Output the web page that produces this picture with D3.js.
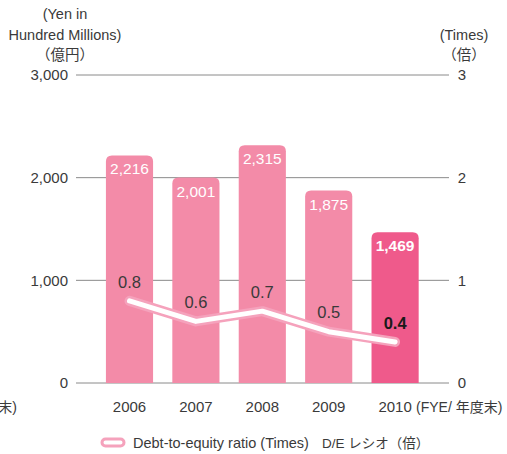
<!DOCTYPE html>
<html><head><meta charset="utf-8">
<script src="https://cdn.jsdelivr.net/npm/d3@7"></script>
<style>
body{margin:0;background:#fff;}
svg{display:block;font-family:"Liberation Sans","Helvetica Neue",Arial,"Noto Sans CJK JP",sans-serif;}
</style></head>
<body><svg id="c" width="507" height="454"></svg>
<script>
const years = ["2006","2007","2008","2009","2010"];
const debt = [2216, 2001, 2315, 1875, 1469];
const ratio = [0.8, 0.6, 0.7, 0.5, 0.4];
const leftTicks = [0, 1000, 2000, 3000];
const rightTicks = [0, 1, 2, 3];

const svg = d3.select("#c");
const x = d3.scaleBand().domain(years).range([96.3, 428.3]).paddingInner(0.29).paddingOuter(0.145);
const yL = d3.scaleLinear().domain([0, 3000]).range([383, 75]);
const yR = d3.scaleLinear().domain([0, 3]).range([383, 75]);
const textCol = "#3a3a3a";
const fs = 14.5;

// gridlines
svg.append("g").selectAll("line").data(leftTicks).join("line")
  .attr("x1", 76).attr("x2", 449)
  .attr("y1", d => yL(d)).attr("y2", d => yL(d))
  .attr("stroke", "#8a8a8a").attr("stroke-width", 1);

// left axis labels
svg.append("g").selectAll("text").data(leftTicks).join("text")
  .attr("x", 68).attr("y", d => yL(d)).attr("dy", "0.35em")
  .attr("text-anchor", "end").attr("font-size", 15).attr("fill", textCol)
  .text(d => d3.format(",")(d));
// right axis labels
svg.append("g").selectAll("text").data(rightTicks).join("text")
  .attr("x", 462).attr("y", d => yR(d)).attr("dy", "0.35em")
  .attr("text-anchor", "middle").attr("font-size", 15).attr("fill", textCol)
  .text(d => d);

// axis titles
const lt = [["(Yen in", 14], ["Hundred Millions)", 35], ["（億円）", 55]];
svg.append("g").selectAll("text").data(lt).join("text")
  .attr("x", 65).attr("y", d => d[1]).attr("dy", "0.35em")
  .attr("text-anchor", "middle").attr("font-size", fs).attr("fill", textCol)
  .text(d => d[0]);
const rt = [["(Times)", 35], ["（倍）", 55]];
svg.append("g").selectAll("text").data(rt).join("text")
  .attr("x", 464).attr("y", d => d[1]).attr("dy", "0.35em")
  .attr("text-anchor", "middle").attr("font-size", fs).attr("fill", textCol)
  .text(d => d[0]);

// bars with rounded top corners
const r = 6;
function barPath(d, i) {
  const x0 = x(years[i]), w = x.bandwidth(), y0 = yL(d), yb = yL(0);
  return `M${x0},${yb}V${y0 + r}Q${x0},${y0} ${x0 + r},${y0}H${x0 + w - r}Q${x0 + w},${y0} ${x0 + w},${y0 + r}V${yb}Z`;
}
svg.append("g").selectAll("path").data(debt).join("path")
  .attr("d", barPath)
  .attr("fill", (d, i) => i === years.length - 1 ? "#ef5a8b" : "#f38ba8");

// bar labels
svg.append("g").selectAll("text").data(debt).join("text")
  .attr("x", (d, i) => x(years[i]) + x.bandwidth() / 2)
  .attr("y", d => yL(d) + 19)
  .attr("text-anchor", "middle").attr("font-size", 15.5).attr("fill", "#fff")
  .attr("font-weight", (d, i) => i === years.length - 1 ? "bold" : "normal")
  .text(d => d3.format(",")(d));

// ratio line
const line = d3.line().x((d, i) => x(years[i]) + x.bandwidth() / 2).y(d => yR(d));
svg.append("path").datum(ratio).attr("d", line)
  .attr("fill", "none").attr("stroke", "#f5a2bc").attr("stroke-width", 10)
  .attr("stroke-linecap", "round").attr("stroke-linejoin", "round");
svg.append("path").datum(ratio).attr("d", line)
  .attr("fill", "none").attr("stroke", "#fff").attr("stroke-width", 5)
  .attr("stroke-linecap", "round").attr("stroke-linejoin", "round");

// ratio labels
svg.append("g").selectAll("text").data(ratio).join("text")
  .attr("x", (d, i) => x(years[i]) + x.bandwidth() / 2)
  .attr("y", d => yR(d) - 19).attr("dy", "0.35em")
  .attr("text-anchor", "middle").attr("font-size", 16.5)
  .attr("fill", (d, i) => i === years.length - 1 ? "#1a1a1a" : textCol)
  .attr("font-weight", (d, i) => i === years.length - 1 ? "bold" : "normal")
  .text(d => d3.format(".1f")(d));

// x labels
svg.append("g").selectAll("text").data(years).join("text")
  .attr("x", d => x(d) + x.bandwidth() / 2).attr("y", 407).attr("dy", "0.35em")
  .attr("text-anchor", "middle").attr("font-size", 15).attr("fill", textCol)
  .text(d => d);
svg.append("text").attr("x", 416).attr("y", 407).attr("dy", "0.35em")
  .attr("font-size", 14).attr("fill", textCol)
  .text("(FYE/ 年度末)");
svg.append("text").attr("x", 17).attr("y", 407).attr("dy", "0.35em")
  .attr("text-anchor", "end").attr("font-size", 14).attr("fill", textCol).text("(FYE/ 年度末)");

// legend
svg.append("rect").attr("x", 102).attr("y", 439).attr("width", 22).attr("height", 7)
  .attr("rx", 3.5).attr("fill", "#fff").attr("stroke", "#f5a2bc").attr("stroke-width", 3);
svg.append("text").attr("x", 133).attr("y", 443).attr("dy", "0.35em")
  .attr("font-size", fs).attr("fill", textCol).text("Debt-to-equity ratio (Times)");
svg.append("text").attr("x", 322).attr("y", 443).attr("dy", "0.35em")
  .attr("font-size", 13.5).attr("fill", textCol).text("D/E レシオ（倍）");
</script></body></html>
